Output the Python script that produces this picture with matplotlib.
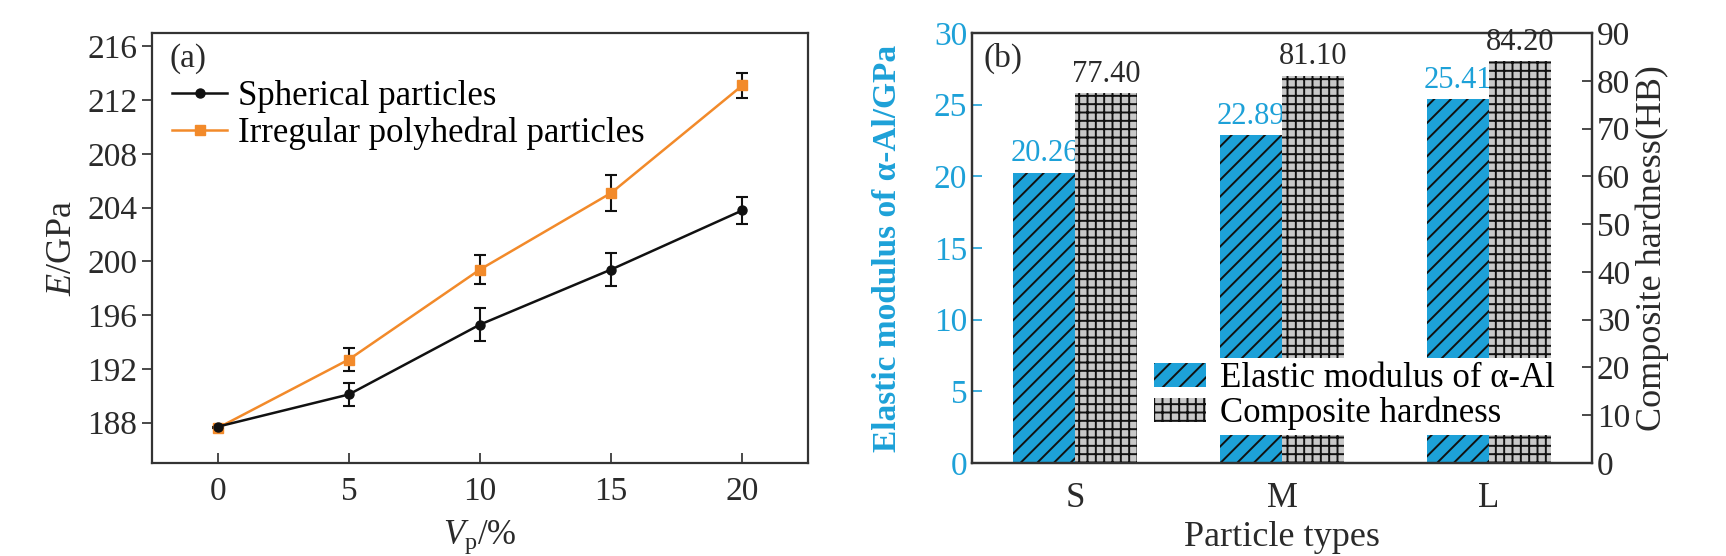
import numpy as np
import matplotlib
matplotlib.use("Agg")
import matplotlib.pyplot as plt
from matplotlib.lines import Line2D

plt.rcParams["font.family"] = ["Liberation Serif", "DejaVu Serif"]
plt.rcParams["mathtext.fontset"] = "custom"
plt.rcParams["mathtext.rm"] = "Liberation Serif"
plt.rcParams["mathtext.it"] = "Liberation Serif:italic"
plt.rcParams["hatch.linewidth"] = 1.4

# panel (a) data
vp = [0, 5, 10, 15, 20]
e_sph = [187.7, 190.1, 195.3, 199.4, 203.8]
e_sph_err = [0.0, 0.85, 1.2, 1.25, 1.0]
e_irr = [187.6, 192.7, 199.4, 205.1, 213.1]
e_irr_err = [0.0, 0.85, 1.1, 1.35, 0.95]

# panel (b) data
types = ["S", "M", "L"]
modulus = [20.26, 22.89, 25.41]
hardness = [77.40, 81.10, 84.20]

blue = "#1da1d8"
orange = "#f28a2a"
spine_c = "#333333"
txt_c = "#2a2a2a"

fig = plt.figure(figsize=(17.26, 5.56), dpi=100)
ax1 = fig.add_axes([0.0881, 0.1673, 0.380, 0.7733])
ax2 = fig.add_axes([0.5632, 0.1673, 0.3592, 0.7733])

# ---- (a) ----
ax1.errorbar(vp, e_irr, yerr=e_irr_err, fmt="-s", color=orange, mfc=orange, mec=orange,
             ms=6.5, lw=1.8, ecolor="#111111", elinewidth=1.5, capsize=4, capthick=1.5)
ax1.errorbar(vp, e_sph, yerr=e_sph_err, fmt="-o", color="#111111", ms=6.5, lw=1.8,
             ecolor="#111111", elinewidth=1.5, capsize=4, capthick=1.5)
ax1.set_xlim(-2.5, 22.5)
ax1.set_ylim(185, 217)
ax1.set_xticks(vp)
ax1.set_yticks(np.arange(188, 217, 4))
ax1.tick_params(axis="x", direction="in", length=7, width=1.2, labelsize=24, pad=10, colors=txt_c)
ax1.tick_params(axis="y", direction="out", length=7, width=1.2, labelsize=24, colors=txt_c)
ax1.set_xlabel(r"$V_{\rm p}$/%", fontsize=25, color=txt_c, labelpad=8)
ax1.set_ylabel(r"$E$/GPa", fontsize=26, color=txt_c, labelpad=6)
for s in ax1.spines.values():
    s.set_linewidth(1.6)
    s.set_color(spine_c)
ax1.text(0.027, 0.94, "(a)", transform=ax1.transAxes, fontsize=24, va="center", ha="left", color=txt_c)
h_sph = Line2D([], [], color="#111111", marker="o", ms=6.5, lw=1.8)
h_irr = Line2D([], [], color=orange, marker="s", ms=6.5, lw=1.8)
ax1.legend([h_sph, h_irr], ["Spherical particles", "Irregular polyhedral particles"],
           loc="upper left", bbox_to_anchor=(0.03, 0.89), frameon=False, fontsize=25,
           handlelength=1.6, handletextpad=0.3, labelspacing=0.1, borderaxespad=0,
           borderpad=0)

# ---- (b) ----
x = np.arange(len(types))
w = 0.3
b1 = ax2.bar(x - w / 2, modulus, w, color=blue, edgecolor="#111111", linewidth=0, hatch="//")
ax2t = ax2.twinx()
b2 = ax2t.bar(x + w / 2, hardness, w, color="#c8c8c8", edgecolor="#111111", linewidth=0, hatch="++")
ax2.bar_label(b1, fmt="%.2f", padding=3, color=blue, fontsize=22)
ax2t.bar_label(b2, fmt="%.2f", padding=3, color=txt_c, fontsize=22)
ax2.set_xlim(-0.5, 2.5)
ax2.set_ylim(0, 30)
ax2t.set_ylim(0, 90)
ax2.set_xticks(x)
ax2.set_xticklabels(types)
ax2.set_yticks(np.arange(0, 31, 5))
ax2t.set_yticks(np.arange(0, 91, 10))
ax2.tick_params(axis="x", length=0, labelsize=25, pad=14, colors=txt_c)
ax2.tick_params(axis="y", direction="in", length=7, width=1.2, labelsize=24, colors=blue)
ax2t.tick_params(axis="y", direction="in", length=7, width=1.2, labelsize=24, colors=txt_c)
ax2.set_xlabel("Particle types", fontsize=26, color=txt_c, labelpad=4)
ax2.set_ylabel("Elastic modulus of \u03b1-Al/GPa", fontsize=24, fontweight="bold", color=blue, labelpad=2)
ax2t.set_ylabel("Composite hardness(HB)", fontsize=26, color=txt_c, labelpad=4)
ax2.yaxis.set_label_coords(-0.112, 0.5)
for a in (ax2, ax2t):
    for s in a.spines.values():
        s.set_linewidth(1.6)
        s.set_color(spine_c)
ax2t.text(0.018, 0.94, "(b)", transform=ax2.transAxes, fontsize=24, va="center", ha="left", color=txt_c)
leg = ax2t.legend([b1, b2], ["Elastic modulus of \u03b1-Al", "Composite hardness"],
                  loc="upper left", bbox_to_anchor=(1150 / 1726, (556 - 358) / 556),
                  bbox_transform=fig.transFigure, fontsize=25, frameon=True, fancybox=False,
                  handlelength=1.5, handleheight=0.7, handletextpad=0.4, labelspacing=0.05,
                  borderpad=0.12, borderaxespad=0)
leg.get_frame().set_facecolor("white")
leg.get_frame().set_edgecolor("none")
leg.get_frame().set_alpha(1)

fig.savefig("out.png", dpi=100)
